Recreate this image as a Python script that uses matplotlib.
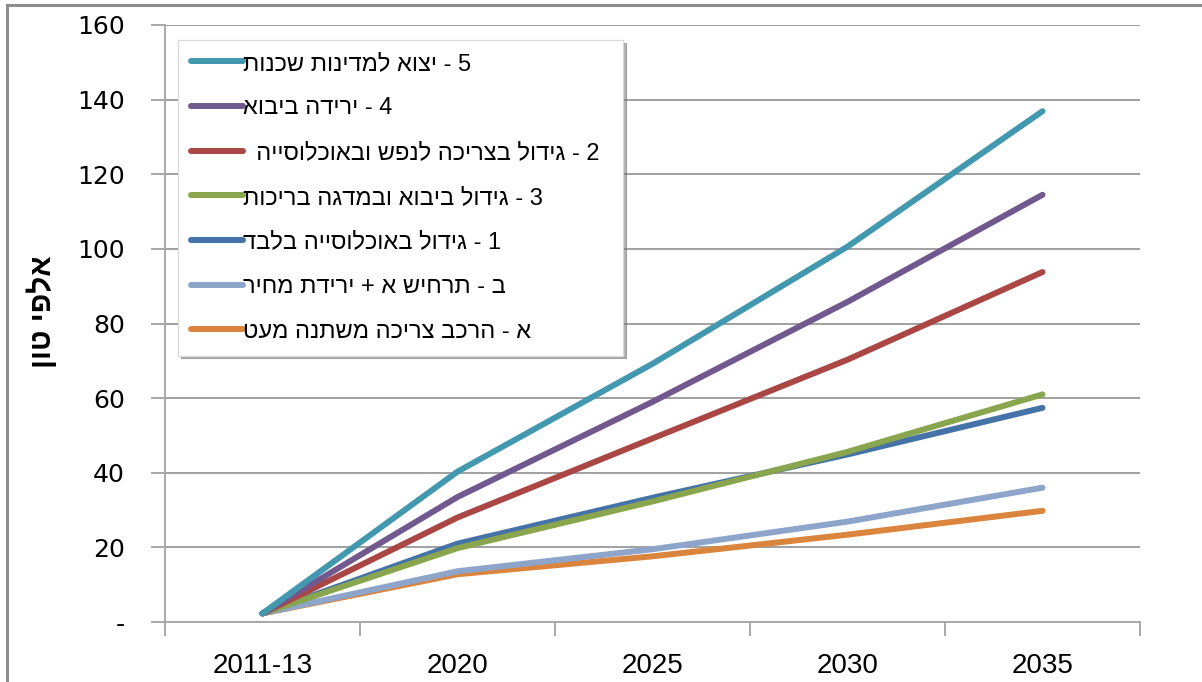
import matplotlib
matplotlib.use("Agg")
import matplotlib.pyplot as plt
from matplotlib.lines import Line2D

# Projection periods
categories = ["2011-13", "2020", "2025", "2030", "2035"]

# Scenario series (thousand tonnes)
s5_export = [2.3, 40.3, 69.2, 100.6, 136.9]
s4_import_drop = [2.3, 33.5, 59.0, 85.8, 114.5]
s2_capita_pop = [2.3, 28.0, 49.2, 70.3, 93.8]
s3_import_farming = [2.3, 19.8, 32.3, 45.6, 61.0]
s1_population = [2.3, 21.0, 33.3, 44.9, 57.4]
sb_price_drop = [2.3, 13.6, 19.5, 26.9, 36.0]
sa_mix_change = [2.3, 12.8, 17.6, 23.4, 29.8]

labels = [
    "5 - יצוא למדינות שכנות",
    "4 - ירידה ביבוא",
    "2 - גידול בצריכה לנפש ובאוכלוסייה",
    "3 - גידול ביבוא ובמדגה בריכות",
    "1 - גידול באוכלוסייה בלבד",
    "ב - תרחיש א + ירידת מחיר",
    "א - הרכב צריכה משתנה מעט",
]
series = [s5_export, s4_import_drop, s2_capita_pop, s3_import_farming,
          s1_population, sb_price_drop, sa_mix_change]
colors = ["#4298AF", "#71588F", "#AA4643", "#89A54E", "#4572A7", "#8EA5CB", "#DB843D"]

y_ticks = [0, 20, 40, 60, 80, 100, 120, 140, 160]
y_ticklabels = ["-"] + [str(v) for v in y_ticks[1:]]
y_title = "אלפי טון"


def visual(s):
    # matplotlib lays text out left-to-right; reverse RTL strings for display
    return s[::-1]


heb_font = ["Liberation Sans", "DejaVu Sans"]
W, H = 1202, 682

fig = plt.figure(figsize=(W / 100, H / 100), dpi=100)
ax_l, ax_r, ax_t, ax_b = 165, 1140, 25, 622
ax = fig.add_axes([ax_l / W, 1 - ax_b / H, (ax_r - ax_l) / W, (ax_b - ax_t) / H])

x = list(range(len(categories)))
# draw lowest-listed series first so the upper ones sit on top
order = [6, 5, 3, 4, 2, 1, 0]
for i in order:
    ax.plot(x, series[i], color=colors[i], lw=4.3, solid_capstyle="round",
            solid_joinstyle="round", zorder=3 + (6 - i) * 0.01)

ax.set_xlim(-0.5, len(categories) - 0.5)
ax.set_ylim(0, 160)
ax.set_yticks(y_ticks)
ax.set_yticklabels(y_ticklabels, fontsize=18, family="DejaVu Sans")
ax.set_xticks(x)
ax.set_xticklabels(categories, fontsize=20, family=["Liberation Sans Narrow", "Liberation Sans"])
ax.set_xticks([v - 0.5 for v in range(len(categories) + 1)], minor=True)
ax.tick_params(axis="x", which="major", length=0, pad=22)
ax.tick_params(axis="x", which="minor", length=10, color="#999999", width=1.2)
ax.tick_params(axis="y", length=10, color="#999999", width=1.2, pad=19)

ax.grid(axis="y", color="#A0A0A0", lw=1.4)
ax.set_axisbelow(True)
for side in ("top", "right"):
    ax.spines[side].set_visible(False)
for side in ("left", "bottom"):
    ax.spines[side].set_color("#A8A8A8")
    ax.spines[side].set_linewidth(1.4)

fig.text(42 / W, 1 - 312 / H, visual(y_title), rotation=90, fontsize=21.5,
         fontweight="bold", family=heb_font, ha="center", va="center")

handles = [Line2D([], [], color=c, lw=4.3, solid_capstyle="round") for c in colors]
leg_labels = [visual(l) for l in labels]
leg_labels[2] = "  " + leg_labels[2]

# legend box spans x 178..623, top at y 40 (pixels)
lx0 = (178 - ax_l) / (ax_r - ax_l)
lw_ = (623 - 178) / (ax_r - ax_l)
ltop = 1 - (40 - ax_t) / (ax_b - ax_t)
leg = ax.legend(handles, leg_labels, loc="upper left", mode="expand",
                bbox_to_anchor=(lx0, 0, lw_, ltop),
                frameon=True, fancybox=False, shadow={"color": "0.45", "alpha": 0.55},
                handlelength=2.2, handletextpad=0.0, labelspacing=0.96,
                borderpad=0.54, borderaxespad=0,
                prop={"family": heb_font, "size": 17})
leg.get_frame().set_edgecolor("#D8D8D8")
leg.get_frame().set_linewidth(0.8)

# outer chart border (left and top edges visible)
fig.add_artist(Line2D([7 / W, 7 / W], [0, 1 - 5 / H], transform=fig.transFigure,
                      color="#8C8C8C", lw=2.2))
fig.add_artist(Line2D([7 / W, 1], [1 - 5 / H, 1 - 5 / H], transform=fig.transFigure,
                      color="#8C8C8C", lw=2.2))

fig.savefig("out.png", dpi=100)
